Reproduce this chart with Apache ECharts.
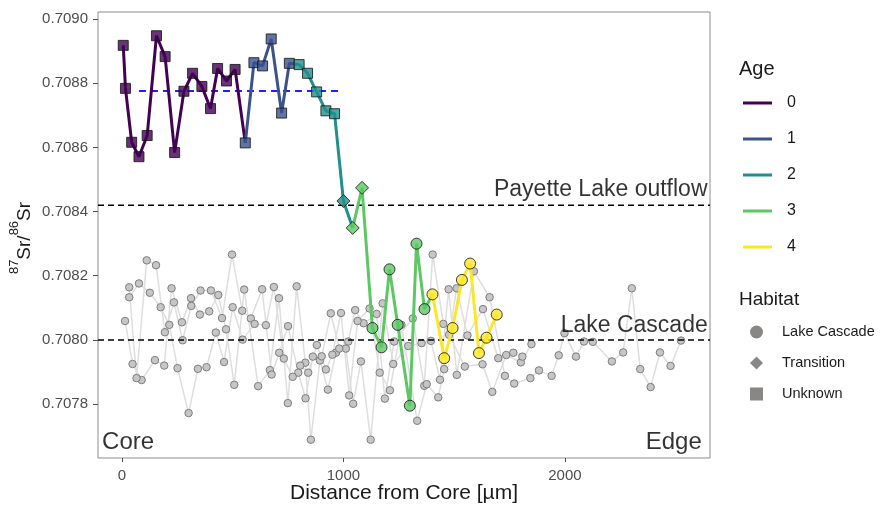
<!DOCTYPE html>
<html><head><meta charset="utf-8">
<script src="https://cdn.jsdelivr.net/npm/echarts@6/dist/echarts.min.js"></script>
<style>html,body{margin:0;padding:0;background:#fff}#c{width:882px;height:505px}</style>
</head><body><div id="c"></div>
<script>
const ageNames = ['0','1','2','3','4'];
const ageColors = ['#440154','#3B528B','#21908C','#5DC863','#FDE725'];
const habitatNames = ['Lake Cascade','Transition','Unknown'];
const habitatSymbols = ['circle','diamond','rect'];
const habitatSizes = [11,13,10];

const fishX = [6,16,44,77,114,156,195,238,280,319,361,400,432,472,511,557,596,635,674,721,756,800,838,879,921,960,1000,1042,1084,1131,1172,1208,1245,1300,1330,1366,1402,1455,1493,1535,1572,1612,1646,1692];
const fishY = [0.708918,0.708784,0.708616,0.708571,0.708637,0.708948,0.708883,0.708584,0.708775,0.708831,0.70879,0.708721,0.708846,0.708807,0.708843,0.708614,0.708864,0.708854,0.708938,0.708707,0.708862,0.708858,0.708831,0.708773,0.708714,0.708705,0.708433,0.708349,0.708474,0.708037,0.707977,0.70822,0.708047,0.707795,0.7083,0.708096,0.708142,0.707943,0.708037,0.708187,0.708238,0.707959,0.708007,0.708079];
const fishAge = [0,0,0,0,0,0,0,0,0,0,0,0,0,0,0,1,1,1,1,1,1,2,2,2,2,2,2,3,3,3,3,3,3,3,3,3,4,4,4,4,4,4,4,4];
const fishHabitat = ['Unknown','Unknown','Unknown','Unknown','Unknown','Unknown','Unknown','Unknown','Unknown','Unknown','Unknown','Unknown','Unknown','Unknown','Unknown','Unknown','Unknown','Unknown','Unknown','Unknown','Unknown','Unknown','Unknown','Unknown','Unknown','Unknown','Transition','Transition','Transition','Lake Cascade','Lake Cascade','Lake Cascade','Lake Cascade','Lake Cascade','Lake Cascade','Lake Cascade','Lake Cascade','Lake Cascade','Lake Cascade','Lake Cascade','Lake Cascade','Lake Cascade','Lake Cascade','Lake Cascade'];

const grayX = [14,33,33,48,66,77,89,112,126,149,154,175,191,194,214,224,235,251,271,274,301,312,313,343,352,355,382,394,402,424,435,452,461,470,497,500,507,543,545,552,582,599,615,633,650,668,676,686,709,710,731,749,750,771,789,796,805,828,829,841,853,862,880,894,902,921,930,943,950,966,981,989,1011,1022,1026,1044,1053,1064,1079,1091,1118,1123,1150,1164,1177,1187,1210,1225,1229,1262,1293,1313,1333,1353,1365,1376,1395,1403,1428,1436,1451,1455,1475,1477,1511,1512,1548,1560,1589,1628,1630,1660,1672,1699,1729,1735,1767,1771,1801,1808,1844,1849,1883,1940,1972,1998,2050,2086,2126,2212,2263,2302,2340,2387,2429,2477,2524];
const grayY = [0.708059,0.708164,0.708133,0.707925,0.707881,0.708176,0.707875,0.708248,0.708147,0.707937,
0.708233,0.708102,0.70792,0.708024,0.708047,0.708161,0.708117,0.707912,0.708055,0.707999,
0.707772,0.70813,0.708106,0.70791,0.708079,0.708154,0.707915,0.708089,0.708154,0.708023,
0.70814,0.708068,0.707931,0.708033,0.708266,0.708102,0.70786,0.708091,0.708001,0.708157,
0.708067,0.70805,0.707856,0.708158,0.708046,0.707906,0.707892,0.708165,0.70813,0.70796,
0.707942,0.707803,0.708043,0.707885,0.708167,0.707898,0.70792,0.707929,0.707818,0.707898,
0.707689,0.707948,0.707984,0.707936,0.707949,0.707908,0.707845,0.708083,0.707954,0.70796,
0.707973,0.708084,0.707973,0.707995,0.707827,0.707801,0.708093,0.708059,0.707933,0.708052,
0.708098,0.707689,0.708081,0.707898,0.708114,0.707817,0.707843,0.707925,0.707995,0.708047,
0.707981,0.708067,0.707748,0.70799,0.707857,0.707862,0.707997,0.708266,0.707821,0.707876,
0.70805,0.707909,0.708158,0.708016,0.708161,0.707891,0.707917,0.708014,0.708214,0.707924,
0.708096,0.708133,0.707838,0.707943,0.707888,0.707953,0.70796,0.707864,0.70793,0.707948,
0.707881,0.707987,0.707905,0.707888,0.707952,0.708021,0.707948,0.707995,0.707994,0.707933,
0.707961,0.708161,0.707909,0.707853,0.707961,0.707919,0.707998];

const meanX = [77, 998];
const meanY = [0.708776, 0.708776];
const refLines = [0.70842, 0.7080];
const xRange = [-108, 2655];
const yRange = [0.707632, 0.709022];
const xTicks = [0, 1000, 2000];
const yTicks = [0.7078, 0.7080, 0.7082, 0.7084, 0.7086, 0.7088, 0.7090];
const annoNames = ['Core', 'Edge', 'Payette Lake outflow', 'Lake Cascade'];
const annoX = [-92, 2620, 2646, 2647];
const annoY = [0.707682, 0.707682, 0.708467, 0.708044];

const FONT = 'Liberation Sans, Arial, sans-serif';
const chart = echarts.init(document.getElementById('c'), null, {renderer: 'canvas'});
const series = [];

// gray background transects
const grayPaths = [[], [], []];
for (let i = 0; i < grayX.length; i++) {
  const p = i < 122 ? i % 3 : 0;
  grayPaths[p].push([grayX[i], grayY[i]]);
}
grayPaths.forEach((d, k) => series.push({
  type: 'line', name: 'gray' + k, data: d, symbol: 'circle', symbolSize: 7.5, showSymbol: true,
  itemStyle: {color: '#c6c6c6', borderColor: '#7d7d7d', borderWidth: 1},
  lineStyle: {color: '#dedede', width: 1.5}, z: 2, silent: true
}));

// reference dashed lines (full width)
refLines.forEach((v, k) => series.push({
  type: 'line', name: 'ref' + k, data: xRange.map(x => [x, v]), showSymbol: false,
  lineStyle: {color: '#000', width: 1.5, type: [6, 4]}, z: 3, silent: true
}));

// mean line
series.push({
  type: 'line', name: 'mean', data: meanX.map((x, i) => [x, meanY[i]]), showSymbol: false,
  lineStyle: {color: '#1f1fff', width: 2, type: [7, 5]}, z: 3, silent: true
});

// age path segments
ageNames.forEach((a, k) => {
  const idx = [];
  fishAge.forEach((g, i) => { if (g === k) idx.push(i); });
  const last = idx[idx.length - 1];
  if (last + 1 < fishX.length) idx.push(last + 1);
  series.push({
    type: 'line', name: a, data: idx.map(i => [fishX[i], fishY[i]]), showSymbol: false,
    itemStyle: {color: ageColors[k]}, lineStyle: {color: ageColors[k], width: 3}, z: 4, silent: true
  });
});

// fish points
series.push({
  type: 'scatter', name: 'fishPts', z: 5, silent: true,
  data: fishX.map((x, i) => {
    const h = habitatNames.indexOf(fishHabitat[i]);
    return {value: [x, fishY[i]], symbol: habitatSymbols[h], symbolSize: habitatSizes[h],
      itemStyle: {color: ageColors[fishAge[i]], borderColor: '#111', borderWidth: 1}};
  })
});

// habitat legend dummies
habitatNames.forEach((h, i) => series.push({
  type: 'scatter', name: h, data: [], symbol: habitatSymbols[i], itemStyle: {color: '#6b6868'}
}));

// annotations
series.push({
  type: 'scatter', name: 'anno', z: 6, silent: true, symbolSize: 1,
  itemStyle: {color: 'rgba(0,0,0,0)', borderWidth: 0},
  data: annoNames.map((n, i) => ({
    name: n, value: [annoX[i], annoY[i]],
    label: {show: true, position: i === 0 ? 'right' : 'left', distance: 0, formatter: '{b}',
      fontSize: i < 2 ? 24 : 23, color: '#000', fontFamily: FONT}
  }))
});

chart.setOption({
  animation: false,
  textStyle: {fontFamily: FONT},
  grid: {left: 98, right: 172, top: 12, bottom: 47, show: true, borderColor: '#8c8c8c', borderWidth: 1,
    backgroundColor: 'transparent', containLabel: false, outerBoundsMode: 'none'},
  xAxis: {
    type: 'value', min: xRange[0], max: xRange[1],
    axisLine: {show: false, onZero: false}, splitLine: {show: false},
    axisTick: {show: true, length: 4, customValues: xTicks, lineStyle: {color: '#4d4d4d'}},
    axisLabel: {customValues: xTicks, color: '#4d4d4d', fontSize: 15, margin: 10, formatter: v => String(v)},
    name: 'Distance from Core [µm]', nameLocation: 'middle', nameGap: 25, nameMoveOverlap: false,
    nameTextStyle: {fontSize: 21, color: '#1a1a1a', verticalAlign: 'top'}
  },
  yAxis: {
    type: 'value', min: yRange[0], max: yRange[1],
    axisLine: {show: false, onZero: false}, splitLine: {show: false},
    axisTick: {show: true, length: 5, customValues: yTicks, lineStyle: {color: '#4d4d4d'}},
    axisLabel: {customValues: yTicks, color: '#4d4d4d', fontSize: 15, margin: 10, formatter: v => v.toFixed(4)}
  },
  legend: [
    {data: ageNames.map(n => ({name: n, icon: 'rect'})), orient: 'vertical', left: 743, top: 93, padding: 0,
     itemWidth: 29, itemHeight: 3, itemGap: 16, selectedMode: false,
     textStyle: {fontSize: 16, color: '#1a1a1a', lineHeight: 20, padding: [0, 0, 0, 10]}},
    {data: habitatNames.map((n, i) => ({name: n, icon: habitatSymbols[i]})), orient: 'vertical', left: 750, top: 323, padding: 0,
     itemWidth: 13, itemHeight: 13, itemGap: 13, selectedMode: false,
     textStyle: {fontSize: 14.5, color: '#1a1a1a', lineHeight: 18, padding: [0, 0, 0, 14]}}
  ],
  graphic: [
    {type: 'text', left: 739, top: 59, style: {text: 'Age', fontSize: 20, fill: '#1a1a1a', fontFamily: FONT}},
    {type: 'text', left: 739, top: 290, style: {text: 'Habitat', fontSize: 19, fill: '#1a1a1a', fontFamily: FONT}},
    {type: 'text', x: 21, y: 238, rotation: Math.PI / 2,
     style: {text: '{s|87}{m|Sr/}{s|86}{m|Sr}', align: 'center', verticalAlign: 'middle', fill: '#1a1a1a',
       fontFamily: FONT,
       rich: {s: {fontSize: 13, lineHeight: 13, verticalAlign: 'top', fill: '#1a1a1a'},
              m: {fontSize: 19, lineHeight: 27, verticalAlign: 'bottom', fill: '#1a1a1a'}}}}
  ],
  series: series
});
</script></body></html>
